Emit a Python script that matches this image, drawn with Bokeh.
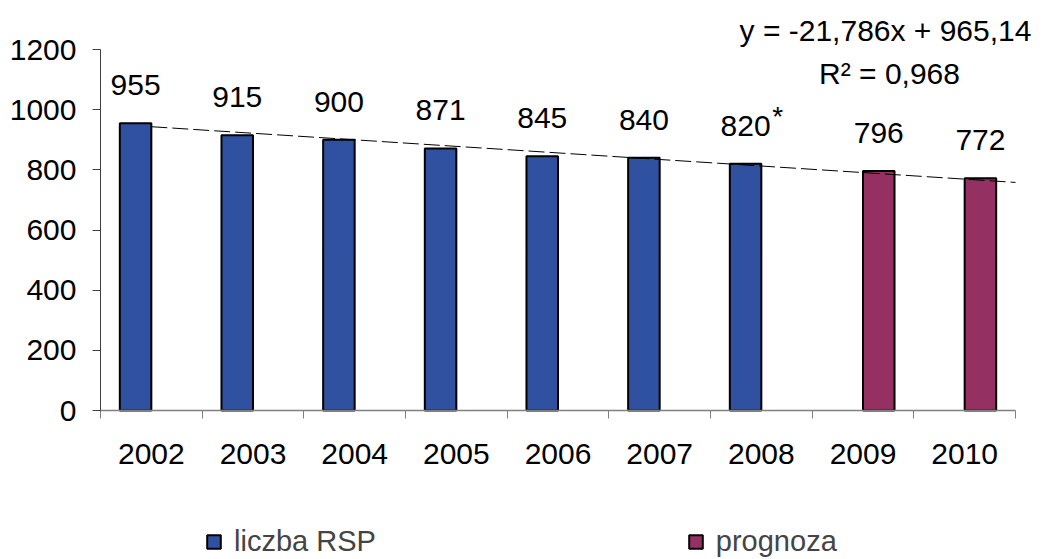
import numpy as np
from bokeh.plotting import figure
from bokeh.models import (Range1d, FixedTicker, Legend, LegendItem, ColumnDataSource, Label)
from bokeh.core.properties import value
from bokeh.embed import file_html
from bokeh.resources import INLINE

# ---- data ----
years = ["2002", "2003", "2004", "2005", "2006", "2007", "2008", "2009", "2010"]
rsp_years = ["2002", "2003", "2004", "2005", "2006", "2007", "2008"]
rsp_values = [955, 915, 900, 871, 845, 840, 820]
prog_years = ["2009", "2010"]
prog_values = [796, 772]
rsp_notes = ["", "", "", "", "", "", "*"]
eq_text = "y = -21,786x + 965,14"
r2_text = "R\u00b2 = 0,968"
y_ticks = [0, 200, 400, 600, 800, 1000, 1200]
y_max = 1200

FONT = "Liberation Sans"
BLUE = "#3050A0"
MAROON = "#953162"

# ---- layout (pixels) ----
W, H = 1043, 559
PX_L, PX_R = 100, 1015      # x axis from first to last category boundary
PY_0, PY_TOP = 410, 49      # y=0 and y=y_max
n = len(years)
ppx = (PX_R - PX_L) / n
ppy = (PY_0 - PY_TOP) / y_max
x_start = 0.5 - PX_L / ppx
x_end = n + 0.5 + (W - PX_R) / ppx
y_start = -(H - PY_0) / ppy
y_end = PY_0 / ppy


def px_x(px):
    return 0.5 + (px - PX_L) / ppx


def px_y(py):
    return (PY_0 - py) / ppy


p = figure(width=W, height=H, output_backend="svg", toolbar_location=None,
           x_range=Range1d(x_start, x_end), y_range=Range1d(y_start, y_end),
           min_border=0, min_border_left=0, min_border_right=0,
           min_border_top=0, min_border_bottom=0)
p.outline_line_color = None
p.xgrid.visible = False
p.ygrid.visible = False
p.background_fill_color = "white"
p.border_fill_color = "white"

idx = {y: i + 1 for i, y in enumerate(years)}
off = 0.155
bw = 0.31

rsp_x = [idx[y] - off for y in rsp_years]
prog_x = [idx[y] + off for y in prog_years]
src_r = ColumnDataSource(dict(x=rsp_x, top=rsp_values, lab=[str(v) for v in rsp_values], note=rsp_notes))
src_p = ColumnDataSource(dict(x=prog_x, top=prog_values, lab=[str(v) for v in prog_values]))

r1 = p.vbar(x="x", top="top", width=bw, source=src_r, fill_color=BLUE, line_color="black", line_width=2)
r2 = p.vbar(x="x", top="top", width=bw, source=src_p, fill_color=MAROON, line_color="black", line_width=2)

# trend line (linear fit of the actual series, forecast forward)
xs = np.arange(1, len(rsp_values) + 1)
slope, intercept = np.polyfit(xs, rsp_values, 1)
tx = np.array([1.0, n + 0.5])
p.line(tx, slope * tx + intercept, line_color="black", line_width=1, line_dash="16 5")

# data labels
for src in (src_r, src_p):
    p.text(x="x", y="top", text="lab", source=src, text_align="center", text_baseline="alphabetic",
           y_offset=-38, text_font=value(FONT), text_font_size="30px", text_color="black")
p.text(x="x", y="top", text="note", source=src_r, text_align="center", text_baseline="top",
       x_offset=32, y_offset=-63, text_font=value(FONT), text_font_size="28px", text_color="black")

# equation
p.add_layout(Label(x=px_x(885), y=px_y(30), text=eq_text, text_align="center", text_baseline="middle",
                   text_font=FONT, text_font_size="30px", text_color="black"))
p.add_layout(Label(x=px_x(889), y=px_y(73), text=r2_text, text_align="center", text_baseline="middle",
                   text_font=FONT, text_font_size="30px", text_color="black"))

# axes
xa = p.xaxis[0]
xa.fixed_location = 0
xa.bounds = (0.5, n + 0.5)
xa.ticker = FixedTicker(ticks=list(range(1, n + 1)),
                        minor_ticks=[i + 0.5 for i in range(0, n + 1)])
xa.major_label_overrides = {i + 1: y for i, y in enumerate(years)}
xa.major_tick_line_color = None
xa.major_tick_out = 0
xa.major_tick_in = 0
xa.minor_tick_in = 0
xa.minor_tick_out = 8
xa.minor_tick_line_color = "#808080"
xa.axis_line_color = "#808080"
xa.axis_line_width = 1.5
xa.major_label_standoff = 25
xa.major_label_text_font = FONT
xa.major_label_text_font_size = "30px"
xa.major_label_text_color = "black"

ya = p.yaxis[0]
ya.fixed_location = 0.5
ya.ticker = FixedTicker(ticks=y_ticks)
ya.bounds = (0, y_max)
ya.major_tick_out = 8
ya.major_tick_in = 0
ya.minor_tick_line_color = None
ya.major_tick_line_color = "#404040"
ya.axis_line_color = "#404040"
ya.major_label_standoff = 16
ya.major_label_text_font = FONT
ya.major_label_text_font_size = "30px"
ya.major_label_text_color = "black"

legend = Legend(items=[LegendItem(label="liczba RSP", renderers=[r1]),
                       LegendItem(label="prognoza", renderers=[r2])],
                orientation="horizontal", location=(205, 1),
                glyph_width=17, glyph_height=17, label_standoff=12, spacing=311,
                label_text_font=FONT, label_text_font_size="29px",
                padding=0, margin=0, border_line_color=None, background_fill_alpha=0)
p.add_layout(legend, "center")

open("out.html", "w").write(file_html(p, INLINE))
